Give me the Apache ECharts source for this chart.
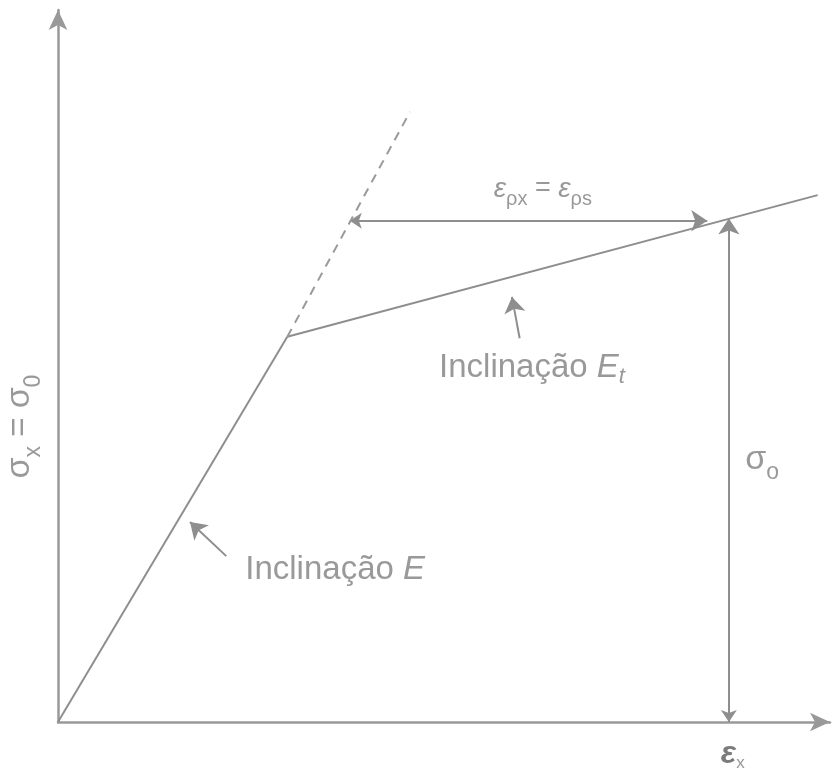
<!DOCTYPE html>
<html>
<head>
<meta charset="utf-8">
<script src="https://cdn.jsdelivr.net/npm/echarts@6/dist/echarts.min.js"></script>
<style>
  html, body { margin: 0; padding: 0; background: #ffffff; }
  #chart { width: 832px; height: 768px; }
</style>
</head>
<body>
<div id="chart"></div>
<script>
// Bilinear stress-strain diagram (elastic slope E, hardening slope Et)
// Axis ranges in diagram units
const strainRange = [0, 100];
const stressRange = [0, 100];

// Elastic branch, from origin to the yield point
const elasticBranch = [[0, 0], [29.7, 54.1]];
// Hardening branch with tangent modulus Et
const hardeningBranch = [[29.7, 54.1], [98.4, 74.0]];
// Dashed continuation of the elastic slope
const elasticExtension = [[29.7, 54.1], [45.6, 85.7]];

// Dimension arrows
const plasticStrainArrow = [[37.8, 70.4], [84.1, 70.4]];
const stressArrow = [[86.9, 0], [86.9, 70.7]];

// Pointers from the slope captions to the branches
const pointerE = [[21.8, 23.3], [17.1, 28.1]];
const pointerEt = [[59.8, 53.9], [58.8, 59.7]];

// Captions: [x, y, key]
const captions = [
  [35.9, 21.4, 'slopeE'],
  [61.4, 49.5, 'slopeEt'],
  [62.8, 74.4, 'plasticStrain'],
  [91.2, 36.3, 'sigmaO'],
  [87.4, -4.6, 'strainX'],
  [-4.4, 41.5, 'stressY']
];

const captionText = {
  slopeE: '{t|Inclinação }{it|E}',
  slopeEt: '{t|Inclinação }{it|E}{itsub|t}',
  plasticStrain: '{eps|ε}{sub|ρx}{eq| = }{eps|ε}{sub|ρs}',
  sigmaO: '{g|σ}{gsub|o}',
  strainX: '{be|ε}{bsub|x}',
  stressY: '{g|σ}{gsub|x}{geq| = }{g|σ}{gsub|0}'
};

const grey = '#8e8e8e';
const textGrey = '#808080';
const font = '"Liberation Sans", Arial, sans-serif';

// Main glyphs hang from the top of the line box; subscripts sit on its bottom
const richStyles = {
  t: { fontSize: 33, color: textGrey, fontFamily: font, lineHeight: 33, verticalAlign: 'top' },
  it: { fontSize: 33, color: textGrey, fontFamily: font, fontStyle: 'italic', lineHeight: 33, verticalAlign: 'top' },
  itsub: { fontSize: 22, color: textGrey, fontFamily: font, fontStyle: 'italic', lineHeight: 37, verticalAlign: 'bottom' },
  eps: { fontSize: 28, color: textGrey, fontFamily: font, fontStyle: 'italic', lineHeight: 28, verticalAlign: 'top' },
  sub: { fontSize: 20, color: textGrey, fontFamily: font, lineHeight: 34, verticalAlign: 'bottom' },
  eq: { fontSize: 27, color: textGrey, fontFamily: font, lineHeight: 28, verticalAlign: 'top' },
  g: { fontSize: 34, color: textGrey, fontFamily: font, lineHeight: 34, verticalAlign: 'top' },
  gsub: { fontSize: 23, color: textGrey, fontFamily: font, lineHeight: 42, verticalAlign: 'bottom' },
  geq: { fontSize: 33, color: textGrey, fontFamily: font, lineHeight: 34, verticalAlign: 'top' },
  be: { fontSize: 32, color: '#5a5a5a', fontFamily: font, fontWeight: 'bold', fontStyle: 'italic', lineHeight: 32, verticalAlign: 'top' },
  bsub: { fontSize: 17, color: textGrey, fontFamily: font, lineHeight: 34, verticalAlign: 'bottom' }
};

function segment(points, opts) {
  return Object.assign({
    type: 'line',
    data: points,
    symbol: 'none',
    silent: true,
    clip: false,
    lineStyle: { color: grey, width: 2 }
  }, opts || {});
}

function arrow(points, symbols, size) {
  return {
    type: 'lines',
    coordinateSystem: 'cartesian2d',
    silent: true,
    symbol: symbols,
    symbolSize: size,
    lineStyle: { color: grey, width: 2, opacity: 1 },
    itemStyle: { color: '#666' },
    data: [{ coords: points }]
  };
}

const chart = echarts.init(document.getElementById('chart'));
chart.setOption({
  backgroundColor: '#ffffff',
  animation: false,
  grid: { left: 58, right: 2, top: 10, bottom: 46, containLabel: false },
  xAxis: {
    type: 'value',
    min: strainRange[0],
    max: strainRange[1],
    axisLine: { show: true, symbol: ['none', 'arrow'], symbolSize: [14, 20], lineStyle: { color: '#999', width: 2.5 } },
    axisTick: { show: false },
    axisLabel: { show: false },
    splitLine: { show: false }
  },
  yAxis: {
    type: 'value',
    min: stressRange[0],
    max: stressRange[1],
    axisLine: { show: true, symbol: ['none', 'arrow'], symbolSize: [14, 20], lineStyle: { color: '#999', width: 2.5 } },
    axisTick: { show: false },
    axisLabel: { show: false },
    splitLine: { show: false }
  },
  series: [
    segment(elasticBranch),
    segment(hardeningBranch),
    segment(elasticExtension, { lineStyle: { color: '#9a9a9a', width: 2, type: [9, 7] } }),
    arrow(plasticStrainArrow, ['arrow', 'arrow'], [12, 16]),
    arrow(stressArrow, ['arrow', 'arrow'], [12, 16]),
    arrow(pointerE, ['none', 'arrow'], [12, 16]),
    arrow(pointerEt, ['none', 'arrow'], [12, 16]),
    {
      type: 'scatter',
      silent: true,
      clip: false,
      symbolSize: 0,
      data: captions.map(function (c) {
        return {
          value: [c[0], c[1]],
          label: {
            show: true,
            position: 'inside',
            rotate: c[2] === 'stressY' ? 90 : 0,
            formatter: captionText[c[2]],
            rich: richStyles
          }
        };
      })
    }
  ]
});
</script>
</body>
</html>
